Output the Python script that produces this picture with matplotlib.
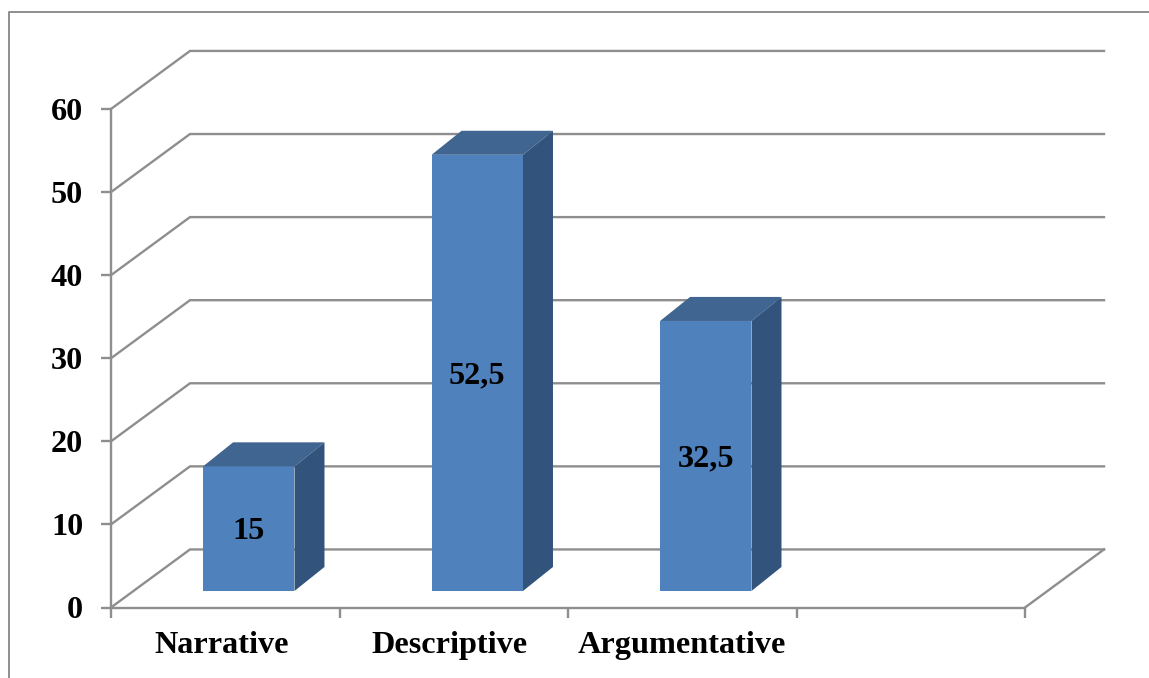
import matplotlib
matplotlib.use('Agg')
import matplotlib.pyplot as plt
from matplotlib.lines import Line2D
from matplotlib.patches import Polygon

categories = ['Narrative', 'Descriptive', 'Argumentative']
values = [15, 52.5, 32.5]
value_labels = ['15', '52,5', '32,5']
y_ticks = [0, 10, 20, 30, 40, 50, 60]
x_ticks = [0, 1, 2, 3, 4]

grey = '#8e8e8e'
front_col = '#4f81bd'
top_col = '#3f6590'
side_col = '#32547c'

plt.rcParams['font.family'] = ['Liberation Serif', 'DejaVu Serif']

W, H = 1149, 678
fig = plt.figure(figsize=(W / 100, H / 100), dpi=100)
ax = fig.add_axes([111 / W, (H - 607.5) / H, 914 / W, 498.5 / H])
ax.set_xlim(0, 4)
ax.set_ylim(0, 60)
ax.patch.set_visible(False)

# fake 3d: how far the back wall is shifted from the front plane, in data units
depth_x = 79 / 228.5
depth_y = 58 / 8.3
bar_w = 0.4
# bar front sits a bit behind the front plane, bar depth is smaller than the floor
fx = 20 / 228.5
fy = 16.5 / 8.3
bx = 30 / 228.5
by = 24 / 8.3

# floor and back wall lines
for y in y_ticks:
    ax.plot([0, depth_x, 4 + depth_x], [y, y + depth_y, y + depth_y],
            color=grey, lw=1.7, clip_on=False, zorder=1, solid_joinstyle='miter')
ax.plot([4, 4 + depth_x], [0, depth_y], color=grey, lw=1.7, clip_on=False, zorder=1)

# bars
for i, v in enumerate(values):
    x0 = i + 0.403
    y0 = fy
    ax.bar(x0, v, width=bar_w, bottom=y0, align='edge', color=front_col,
           edgecolor='none', zorder=3, clip_on=False)
    ax.add_patch(Polygon([(x0, y0 + v), (x0 + bar_w, y0 + v),
                          (x0 + bar_w + bx, y0 + v + by), (x0 + bx, y0 + v + by)],
                         closed=True, fc=top_col, ec='none', zorder=3, clip_on=False))
    ax.add_patch(Polygon([(x0 + bar_w, y0), (x0 + bar_w + bx, y0 + by),
                          (x0 + bar_w + bx, y0 + v + by), (x0 + bar_w, y0 + v)],
                         closed=True, fc=side_col, ec='none', zorder=3, clip_on=False))
    ax.text(x0 + bar_w / 2, y0 + v / 2 - 0.35, value_labels[i], ha='center', va='center',
            fontsize=23.2, fontweight='bold', color='black', zorder=4)

# axes
for s in ['top', 'right']:
    ax.spines[s].set_visible(False)
for s in ['left', 'bottom']:
    ax.spines[s].set_color(grey)
    ax.spines[s].set_linewidth(1.7)
ax.set_yticks(y_ticks)
ax.set_yticklabels([str(t) for t in y_ticks], fontsize=23.2, fontweight='bold')
ax.set_xticks(x_ticks)
ax.set_xticklabels([])
ax.tick_params(axis='both', which='major', color=grey, width=1.7, length=7)
ax.tick_params(axis='y', pad=13)
ax.set_xticks([0.483, 1.48, 2.5], minor=True)
ax.set_xticklabels(categories, minor=True, fontsize=23.2, fontweight='bold')
ax.tick_params(axis='x', which='minor', length=0, pad=17)

# frame of the pasted picture, only top and left are visible
fig.add_artist(Line2D([9 / W, 9 / W, 1], [0, (H - 12) / H, (H - 12) / H],
                      color=grey, lw=1.4, transform=fig.transFigure))

fig.savefig('out.png', dpi=100, facecolor='white')
